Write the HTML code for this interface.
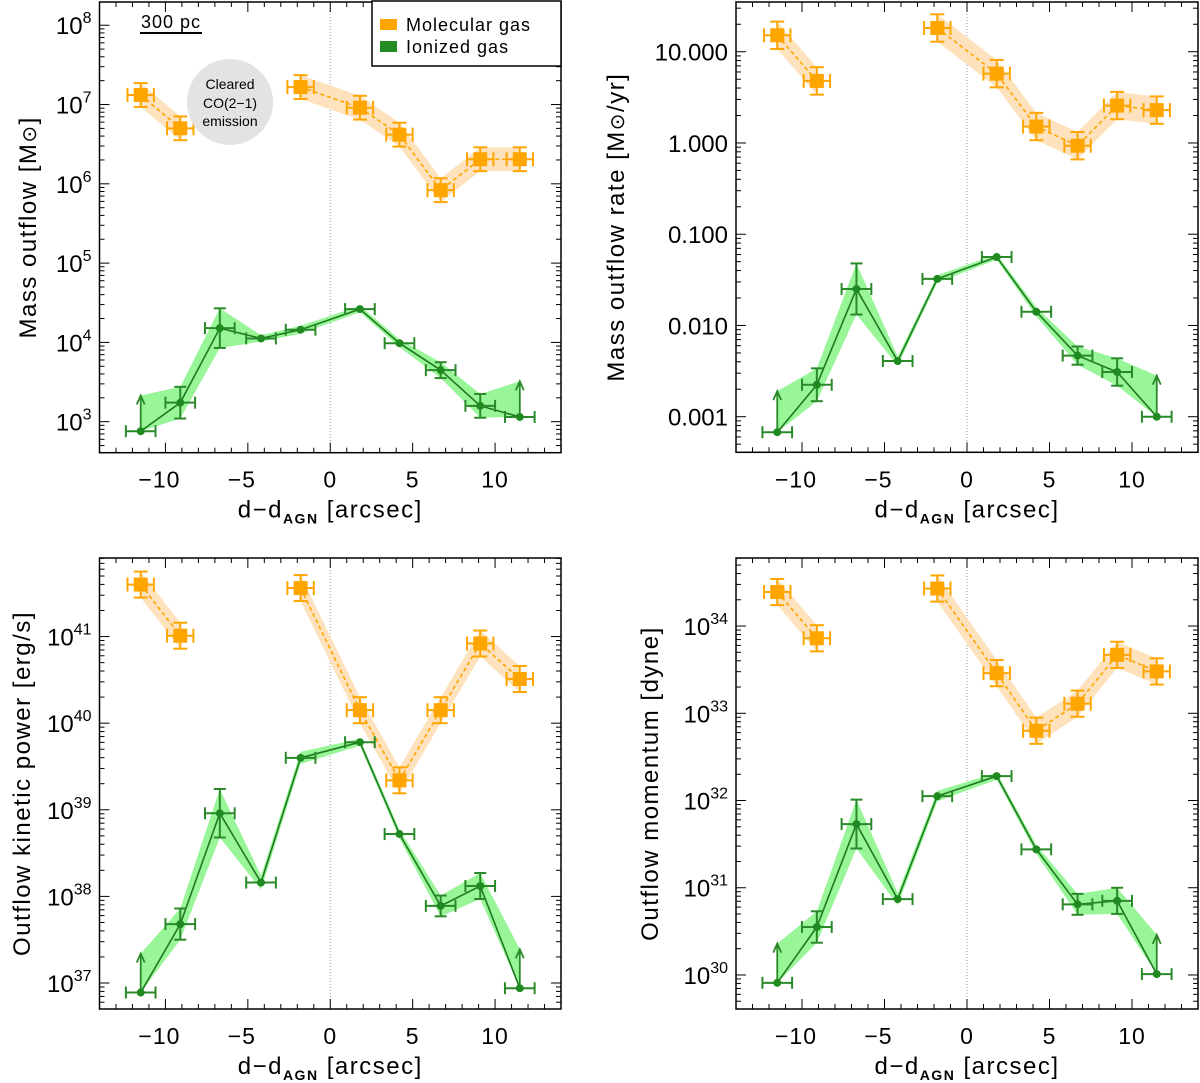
<!DOCTYPE html>
<html><head><meta charset="utf-8"><style>
html,body{margin:0;padding:0;background:#fff;}
svg{display:block;font-family:"Liberation Sans",sans-serif;}
</style></head><body>
<svg id="fig" width="1200" height="1083" viewBox="0 0 1200 1083" xmlns="http://www.w3.org/2000/svg"></svg>
<script>
// ---- data (log10 values) ----
const ionX = [-11.5,-9.1,-6.7,-4.2,-1.8,1.8,4.2,6.7,9.1,11.5];
const molX = [-11.5,-9.1,-1.8,1.8,4.2,6.7,9.1,11.5];
const xTicks = [-10,-5,0,5,10];
const xTickLabels = ["\u221210","\u22125","0","5","10"];

const massMol = [7.12,6.70,7.22,6.96,6.62,5.92,6.31,6.31];
const massIon = [2.88,3.24,4.18,4.05,4.16,4.42,3.99,3.65,3.20,3.06];
const massIonErr = [0.05,0.2,0.25,0.04,0.05,0.04,0.05,0.1,0.15,0.05];

const rateMol = [1.18,0.68,1.26,0.76,0.18,-0.03,0.41,0.36];
const rateIon = [-3.17,-2.65,-1.60,-2.39,-1.49,-1.25,-1.85,-2.33,-2.51,-3.0];
const rateIonErr = [0.05,0.18,0.28,0.05,0.04,0.03,0.05,0.1,0.15,0.05];

const powerMol = [41.60,41.01,41.56,40.15,39.34,40.15,40.92,40.51];
const powerIon = [36.89,37.68,38.96,38.16,39.60,39.78,38.72,37.89,38.12,36.94];
const powerIonErr = [0.05,0.18,0.28,0.08,0.07,0.04,0.05,0.12,0.15,0.05];

const momMol = [34.39,33.86,34.43,33.46,32.80,33.11,33.67,33.48];
const momIon = [29.91,30.55,31.73,30.87,32.05,32.28,31.44,30.81,30.85,30.01];
const momIonErr = [0.05,0.18,0.28,0.07,0.06,0.04,0.05,0.12,0.15,0.05];

const molErr = 0.15;
const limitLen = 0.45;

const NS="http://www.w3.org/2000/svg";
const svg=document.getElementById('fig');
function el(tag,attrs,parent){const e=document.createElementNS(NS,tag);for(const k in attrs)e.setAttribute(k,attrs[k]);(parent||svg).appendChild(e);return e;}

function panel(p){
  const g=el('g',{});
  
  
  const X=v=>p.x0+(v+14)/28*(p.x1-p.x0);
  const Y=v=>p.y1-(v-p.ymin)/(p.ymax-p.ymin)*(p.y1-p.y0);
  const zl=el('line',{x1:X(0),x2:X(0),y1:p.y0,y2:p.y1,stroke:'#999','stroke-width':1,'stroke-dasharray':'1,2'},g);
  
  
  const segs=[[0,1],[2,7]];
  segs.forEach(([a,b])=>{
    let up=[],dn=[],ln=[];
    for(let i=a;i<=b;i++){up.push(X(molX[i])+','+Y(p.mol[i]+molErr));dn.unshift(X(molX[i])+','+Y(p.mol[i]-molErr));ln.push(X(molX[i])+','+Y(p.mol[i]));}
    const band=el('polygon',{points:up.concat(dn).join(' '),fill:'#fde2bd'},g);
    
    
    const l=el('polyline',{points:ln.join(' '),fill:'none',stroke:'#ffa500','stroke-width':1.6,'stroke-dasharray':'4,3'},g);
    
    
  });
  let up=[],dn=[],ln=[];
  for(let i=0;i<ionX.length;i++){
    const lim=(i===0||i===ionX.length-1);
    const hi=lim?p.ion[i]+limitLen:p.ion[i]+p.ierr[i];
    const lo=lim?p.ion[i]:p.ion[i]-p.ierr[i];
    up.push(X(ionX[i])+','+Y(hi));dn.unshift(X(ionX[i])+','+Y(lo));ln.push(X(ionX[i])+','+Y(p.ion[i]));
  }
  const ib=el('polygon',{points:up.concat(dn).join(' '),fill:'#98f598'},g);
  
  
  const il=el('polyline',{points:ln.join(' '),fill:'none',stroke:'#1f7a1f','stroke-width':1.6},g);
  
  
  const gc='#2a8a2a';
  for(let i=0;i<ionX.length;i++){
    const cx=X(ionX[i]),cy=Y(p.ion[i]);
    const xl=X(ionX[i]-0.9),xr=X(ionX[i]+0.9);
    el('line',{x1:xl,x2:xr,y1:cy,y2:cy,stroke:gc,'stroke-width':2},g);
    el('line',{x1:xl,x2:xl,y1:cy-6,y2:cy+6,stroke:gc,'stroke-width':2},g);
    el('line',{x1:xr,x2:xr,y1:cy-6,y2:cy+6,stroke:gc,'stroke-width':2},g);
    if(i===0||i===ionX.length-1){
      const ty=Y(p.ion[i]+limitLen);
      el('line',{x1:cx,x2:cx,y1:cy,y2:ty,stroke:gc,'stroke-width':1.8},g);
      el('polyline',{points:(cx-4)+','+(ty+9)+' '+cx+','+ty+' '+(cx+4)+','+(ty+9),fill:'none',stroke:gc,'stroke-width':1.8},g);
    } else if(p.ierr[i]>0.08){
      const t=Y(p.ion[i]+p.ierr[i]),b=Y(p.ion[i]-p.ierr[i]);
      el('line',{x1:cx,x2:cx,y1:t,y2:b,stroke:gc,'stroke-width':2},g);
      el('line',{x1:cx-6,x2:cx+6,y1:t,y2:t,stroke:gc,'stroke-width':2},g);
      el('line',{x1:cx-6,x2:cx+6,y1:b,y2:b,stroke:gc,'stroke-width':2},g);
    }
    const c=el('circle',{cx:cx,cy:cy,r:4,fill:'#1f8a1f'},g);
    
    
  }
  const oc='#ffa500';
  for(let i=0;i<molX.length;i++){
    const cx=X(molX[i]),cy=Y(p.mol[i]);
    const t=Y(p.mol[i]+molErr),b=Y(p.mol[i]-molErr),xl=X(molX[i]-0.8),xr=X(molX[i]+0.8);
    el('line',{x1:cx,x2:cx,y1:t,y2:b,stroke:oc,'stroke-width':2},g);
    el('line',{x1:cx-7,x2:cx+7,y1:t,y2:t,stroke:oc,'stroke-width':2},g);
    el('line',{x1:cx-7,x2:cx+7,y1:b,y2:b,stroke:oc,'stroke-width':2},g);
    el('line',{x1:xl,x2:xr,y1:cy,y2:cy,stroke:oc,'stroke-width':2},g);
    el('line',{x1:xl,x2:xl,y1:cy-7,y2:cy+7,stroke:oc,'stroke-width':2},g);
    el('line',{x1:xr,x2:xr,y1:cy-7,y2:cy+7,stroke:oc,'stroke-width':2},g);
    const r=el('rect',{x:cx-7,y:cy-7,width:14,height:14,fill:oc},g);
    
    
  }
  const box=el('rect',{x:p.x0,y:p.y0,width:p.x1-p.x0,height:p.y1-p.y0,fill:'none',stroke:'#000','stroke-width':1.5},g);
  
  
  for(let v=-13;v<=13;v++){
    const major=(v%5===0), len=major?10:5;
    el('line',{x1:X(v),x2:X(v),y1:p.y1,y2:p.y1-len,stroke:'#000','stroke-width':1},g);
    el('line',{x1:X(v),x2:X(v),y1:p.y0,y2:p.y0+len,stroke:'#000','stroke-width':1},g);
  }
  xTicks.forEach((v,i)=>{
    const t=el('text',{x:X(v)-(v<0?6:0),y:p.y1+35,'font-size':23,'text-anchor':'middle','letter-spacing':'1'},g);
    t.textContent=xTickLabels[i];
    
    
  });
  const xt=el('text',{x:(p.x0+p.x1)/2,y:p.y1+65,'font-size':24,'text-anchor':'middle','letter-spacing':'1.5'},g);
  xt.innerHTML='d\u2212d<tspan font-size="14" dy="6" font-weight="bold">AGN</tspan><tspan dy="-6"> [arcsec]</tspan>';
  
  
  for(let d=Math.floor(p.ymin);d<=Math.ceil(p.ymax);d++){
    for(let m=1;m<10;m++){
      const lv=d+Math.log10(m);
      if(lv<p.ymin||lv>p.ymax)continue;
      const len=m===1?10:5, y=Y(lv);
      el('line',{x1:p.x0,x2:p.x0+len,y1:y,y2:y,stroke:'#000','stroke-width':1},g);
      el('line',{x1:p.x1,x2:p.x1-len,y1:y,y2:y,stroke:'#000','stroke-width':1},g);
      if(m===1){
        const t=el('text',{x:p.x0-8,y:y+9,'font-size':24,'text-anchor':'end'},g);
        if(p.decimal){t.textContent=Math.pow(10,d).toFixed(3);}
        else t.innerHTML='10<tspan font-size="16" dy="-11">'+d+'</tspan>';
        
        
      }
    }
  }
  const yt=el('text',{x:0,y:0,'font-size':24,'text-anchor':'middle','letter-spacing':'1.5',transform:'translate('+p.tx+','+((p.y0+p.y1)/2)+') rotate(-90)'},g);
  yt.innerHTML=p.title;
  
  
  return g;
}

panel({name:'mass-outflow-panel',x0:99.5,x1:561,y0:2,y1:452.7,ymin:2.609,ymax:8.293,mol:massMol,ion:massIon,ierr:massIonErr,tx:36,title:'Mass  outflow  [M<tspan font-size="20">\u2299</tspan>]'});
panel({name:'mass-rate-panel',x0:736,x1:1198,y0:2,y1:452.3,ymin:-3.39,ymax:1.545,mol:rateMol,ion:rateIon,ierr:rateIonErr,decimal:true,tx:624,title:'Mass  outflow  rate  [M<tspan font-size="20">\u2299</tspan>/yr]'});
panel({name:'kinetic-power-panel',x0:99.5,x1:561,y0:558,y1:1009,ymin:36.70,ymax:41.907,mol:powerMol,ion:powerIon,ierr:powerIonErr,tx:30,title:'Outflow  kinetic  power  [erg/s]'});
panel({name:'momentum-panel',x0:736,x1:1198,y0:558,y1:1009,ymin:29.61,ymax:34.78,mol:momMol,ion:momIon,ierr:momIonErr,tx:658,title:'Outflow  momentum  [dyne]'});

const lg=el('g',{});


el('rect',{x:372,y:1,width:189,height:65,fill:'#fff',stroke:'#000','stroke-width':1.5},lg);
const le1=el('rect',{x:380,y:19,width:17,height:11,fill:'#ffa500'},lg);


const le2=el('rect',{x:380,y:41,width:17,height:11,fill:'#228b22'},lg);


let t1=el('text',{x:406,y:31,'font-size':18,'letter-spacing':'1'},lg);t1.textContent='Molecular gas';


let t2=el('text',{x:406,y:53,'font-size':18,'letter-spacing':'1'},lg);t2.textContent='Ionized gas';



const sb=el('g',{});


el('line',{x1:140,x2:202,y1:33,y2:33,stroke:'#000','stroke-width':2},sb);
let st=el('text',{x:141,y:28,'font-size':18,'letter-spacing':'1'},sb);st.textContent='300 pc';

const cg=el('g',{});


el('circle',{cx:230,cy:102,r:43,fill:'#e3e3e3'},cg);
[['Cleared',89],['CO(2\u22121)',108],['emission',126]].forEach(([s,y])=>{const t=el('text',{x:230,y:y,'font-size':14,'text-anchor':'middle'},cg);t.textContent=s;});
</script>
</body></html>
